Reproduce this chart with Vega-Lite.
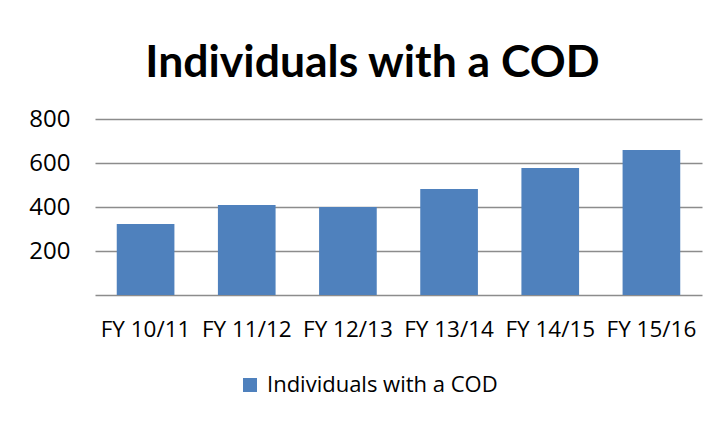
{
  "$schema": "https://vega.github.io/schema/vega-lite/v6.json",
  "width": 607,
  "height": 176,
  "padding": {"left": 28, "top": 40, "right": 17, "bottom": 20},
  "autosize": {"type": "pad"},
  "background": "white",
  "title": {
    "text": "Individuals with a COD",
    "font": "Lato",
    "fontSize": 44.5,
    "fontWeight": "bold",
    "color": "#000000",
    "anchor": "middle",
    "frame": "bounds",
    "offset": 21,
    "dx": 7
  },
  "data": {
    "values": [
      {"year": "FY 10/11", "series": "Individuals with a COD", "value": 323},
      {"year": "FY 11/12", "series": "Individuals with a COD", "value": 409},
      {"year": "FY 12/13", "series": "Individuals with a COD", "value": 400},
      {"year": "FY 13/14", "series": "Individuals with a COD", "value": 482},
      {"year": "FY 14/15", "series": "Individuals with a COD", "value": 577},
      {"year": "FY 15/16", "series": "Individuals with a COD", "value": 659}
    ]
  },
  "mark": {"type": "bar", "color": "#4F81BD"},
  "encoding": {
    "x": {
      "field": "year",
      "type": "nominal",
      "sort": null,
      "scale": {"paddingInner": 0.43, "paddingOuter": 0.215},
      "axis": {
        "title": null,
        "labelAngle": 0,
        "ticks": false,
        "domain": false,
        "labelFont": "Open Sans",
        "labelFontSize": 22.5,
        "labelColor": "#000000",
        "labelPadding": 23,
        "labelOverlap": false,
        "labelLimit": 200
      }
    },
    "y": {
      "field": "value",
      "type": "quantitative",
      "scale": {"domain": [0, 800]},
      "axis": {
        "title": null,
        "values": [0, 200, 400, 600, 800],
        "labelExpr": "datum.value == 0 ? '' : datum.label",
        "ticks": false,
        "domain": false,
        "gridColor": "#8c8c8c",
        "gridWidth": 1.5,
        "gridOpacity": 1,
        "labelFont": "Open Sans",
        "labelFontSize": 24,
        "labelColor": "#000000",
        "labelPadding": 25
      }
    },
    "color": {
      "field": "series",
      "type": "nominal",
      "scale": {"range": ["#4F81BD"]},
      "legend": {
        "title": null,
        "orient": "none",
        "legendX": 144,
        "legendY": 255,
        "direction": "horizontal",
        "symbolType": "square",
        "symbolSize": 196,
        "symbolStrokeWidth": 0,
        "symbolOpacity": 1,
        "labelFont": "Open Sans",
        "labelFontSize": 22,
        "labelColor": "#000000",
        "labelLimit": 400,
        "labelOffset": 6
      }
    }
  },
  "config": {"view": {"stroke": null}}
}
